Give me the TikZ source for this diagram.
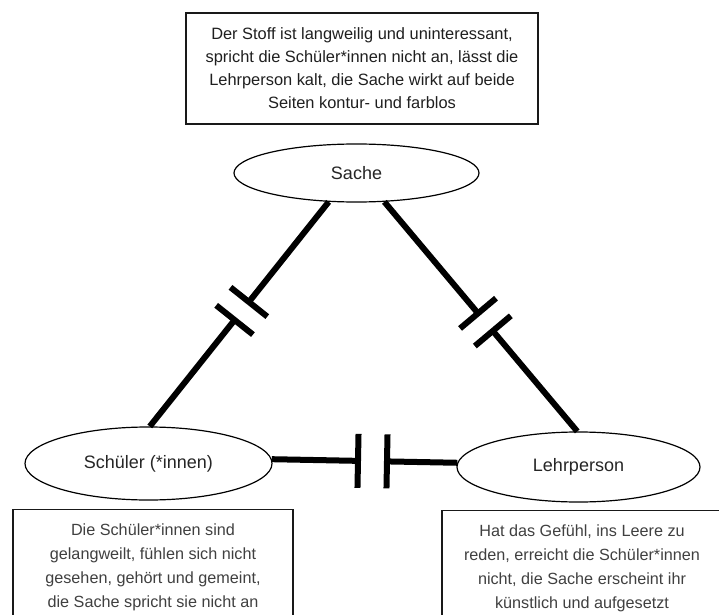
\documentclass[tikz,border=0pt]{standalone}
\usepackage{fontspec}
\setmainfont{Liberation Sans}
\usetikzlibrary{shapes.geometric,calc}
\tikzset{
  ell/.style={ellipse, draw=black, line width=1.2pt, inner sep=0pt, text=black!85,
    font=\fontsize{18}{22}\selectfont},
  topbox/.style={draw=black!90, line width=1.6pt, align=center, inner sep=0pt,
    text=black!88, font=\fontsize{16.4}{23}\selectfont},
  lowbox/.style={draw=black!90, line width=1.4pt, align=center, inner sep=0pt,
    text=black!75, font=\fontsize{16.2}{24}\selectfont},
  link/.style={line width=6pt, line cap=butt, black},
}
\newcommand\mybreak[5]{%
  \coordinate (bm) at ($(#1)!#3!(#2)$);
  \coordinate (bA) at ($(bm)!#4!(#1)$);
  \coordinate (bB) at ($(bm)!#4!(#2)$);
  \draw[link] (#1) -- (bA);
  \draw[link] (bB) -- (#2);
  \draw[link] ($(bA)!#5!90:(#1)$) -- ($(bA)!#5!-90:(#1)$);
  \draw[link] ($(bB)!#5!90:(#2)$) -- ($(bB)!#5!-90:(#2)$);
}
\begin{document}
\begin{tikzpicture}[x=1pt,y=1pt]
\useasboundingbox (0,0) rectangle (719,614);
\clip (0,0) rectangle (719,614);
\fill[white] (0,0) rectangle (719,614);

\node[topbox, minimum width=352pt, minimum height=111pt] (stoff) at (362,545.5)
  {Der Stoff ist langweilig und uninteressant,\\
   spricht die Schüler*innen nicht an, lässt die\\
   Lehrperson kalt, die Sache wirkt auf beide\\
   Seiten kontur- und farblos};

\node[ell, minimum width=245pt, minimum height=58pt] (sache) at (356.5,441) {Sache};
\node[ell, minimum width=247pt, minimum height=73pt] (schueler) at (148.5,150.5) {Schüler (*innen)};
\node[ell, minimum width=243pt, minimum height=70pt] (lehrer) at (578.5,147) {Lehrperson};

\node[lowbox, minimum width=280pt, minimum height=115pt, anchor=north] (sbox) at (153,105)
  {Die Schüler*innen sind\\
   gelangweilt, fühlen sich nicht\\
   gesehen, gehört und gemeint,\\
   die Sache spricht sie nicht an};
\node[lowbox, minimum width=280pt, minimum height=115pt, anchor=north] (lbox) at (582,104)
  {Hat das Gefühl, ins Leere zu\\
   reden, erreicht die Schüler*innen\\
   nicht, die Sache erscheint ihr\\
   künstlich und aufgesetzt};

\mybreak{sache.-134}{schueler.88}{0.486}{11.5pt}{23.5pt}
\mybreak{sache.-46}{lehrer.92}{0.524}{11.5pt}{23.5pt}
\mybreak{schueler.2}{lehrer.178}{0.543}{14.5pt}{27pt}
\end{tikzpicture}
\end{document}
